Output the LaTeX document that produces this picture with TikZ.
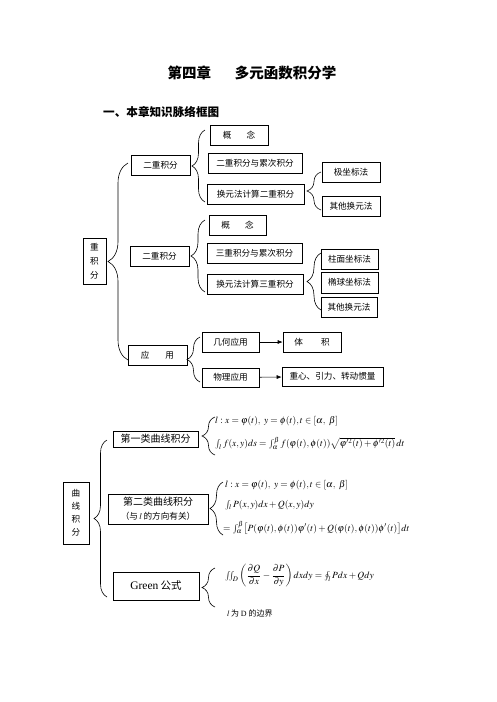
\documentclass[tikz,border=0pt]{standalone}
\usepackage{amsmath}
\usepackage{mathptmx}
\usepackage{fontspec}
\setmainfont{Liberation Serif}
\newfontfamily\cjk{Noto Sans CJK SC}
\newfontfamily\tms{Liberation Serif}
\usetikzlibrary{decorations.pathreplacing,arrows.meta}
\tikzset{
  box/.style={draw, line width=0.6pt, inner sep=0pt, align=center, font=\cjk\fontsize{8.6}{10}\selectfont},
  bbox/.style={draw, line width=0.6pt, inner sep=0pt, align=center, font=\cjk\fontsize{10}{12}\selectfont},
  brc/.style={decorate, decoration={brace, amplitude=#1}, line width=0.6pt},
  arr/.style={-{Latex[length=5pt,width=4pt]}, line width=0.6pt},
  fml/.style={anchor=west, inner sep=0pt, font=\fontsize{9.5}{11}\selectfont}
}
\begin{document}
\begin{tikzpicture}[x=1pt,y=-1pt]
\useasboundingbox (0,0) rectangle (496,702);
% titles
\node[font=\cjk\bfseries\fontsize{14.5}{16}\selectfont] (title) at (252,73) {第四章\hspace{24pt}多元函数积分学};
\node[anchor=west, inner sep=0pt, font=\cjk\bfseries\fontsize{11.6}{13}\selectfont] (sub) at (103,112) {一、本章知识脉络框图};
% top part
\node[box, minimum width=23, minimum height=46, font=\cjk\fontsize{8.6}{14}\selectfont] (r1) at (94.5,261) {重\\积\\分};
\node[box, minimum width=59, minimum height=20] (n1) at (160.5,165) {二重积分};
\node[box, minimum width=58, minimum height=20] (c1) at (239,135) {概\hspace{15pt}念};
\node[box, minimum width=94, minimum height=20] (c2) at (255,163) {二重积分与累次积分};
\node[box, minimum width=97, minimum height=20] (c3) at (255.5,194) {换元法计算二重积分};
\node[box, minimum width=58, minimum height=20] (c4) at (351,172) {极坐标法};
\node[box, minimum width=58, minimum height=20] (c5) at (351,206) {其他换元法};
\node[box, minimum width=59, minimum height=20] (n2) at (159.5,256) {二重积分};
\node[box, minimum width=57, minimum height=20] (d1) at (237.5,225) {概\hspace{15pt}念};
\node[box, minimum width=95, minimum height=20] (d2) at (254.5,253) {三重积分与累次积分};
\node[box, minimum width=96, minimum height=20] (d3) at (255,284) {换元法计算三重积分};
\node[box, minimum width=57, minimum height=20] (d4) at (349.5,259) {柱面坐标法};
\node[box, minimum width=57, minimum height=21] (d5) at (349.5,282.5) {椭球坐标法};
\node[box, minimum width=56, minimum height=20] (d6) at (349,307) {其他换元法};
\node[box, minimum width=59, minimum height=20] (n3) at (157.5,355) {应\hspace{16pt}用};
\node[box, minimum width=57, minimum height=20] (e1) at (230.5,342) {几何应用};
\node[box, minimum width=57, minimum height=19] (e2) at (230.5,377.5) {物理应用};
\node[box, minimum width=58, minimum height=20] (e3) at (312,342) {体\hspace{18pt}积};
\node[box, minimum width=101, minimum height=19] (e4) at (332.5,376.5) {重心、引力、转动惯量};
\draw[arr] (e1) -- (e3);
\draw[arr] (e2) -- (e4);
% braces top part
\draw[brc=20] (128,360) -- (128,163);
\draw[brc=13] (205,202) -- (205,130);
\draw[brc=14] (321,210) -- (321,172);
\draw[brc=14] (205,292) -- (205,220);
\draw[brc=14] (321,310) -- (321,253);
\draw[brc=13] (200,382) -- (200,337);
% bottom part
\node[box, minimum width=26, minimum height=62, font=\cjk\fontsize{8.6}{13}\selectfont] (r2) at (76,513) {曲\\线\\积\\分};
\node[bbox, minimum width=85, minimum height=16] (f1) at (155.5,439) {第一类曲线积分};
\node[bbox, minimum width=100, minimum height=30, font=\cjk\fontsize{10}{14}\selectfont] (f2) at (158,509) {第二类曲线积分\\{\fontsize{8.6}{14}\selectfont （与\,$l$\,的方向有关）}};
\node[bbox, minimum width=86, minimum height=28] (f3) at (156,586) {{\tms\fontsize{11.5}{12}\selectfont Green} {\fontsize{10.5}{12}\selectfont 公式}};
\draw[brc=13] (107,597) -- (107,440);
\draw[brc=13] (215,455) -- (215,417);
\draw[brc=13] (223,535) -- (223,482);
\draw[brc=13] (215,607) -- (215,568);
% formulas
\node[fml] (fa1) at (215,421) {$l: x=\varphi(t),\ y=\phi(t), t\in[\alpha,\ \beta]$};
\node[fml] (fb1) at (215,443) {$\int_l f(x,y)ds=\int_\alpha^\beta f(\varphi(t),\phi(t))\sqrt{\varphi'^2(t)+\phi'^2(t)}\,dt$};
\node[fml] (fa2) at (225,485) {$l: x=\varphi(t),\ y=\phi(t), t\in[\alpha,\ \beta]$};
\node[fml] (fc2) at (225,505) {$\int_l P(x,y)dx+Q(x,y)dy$};
\node[fml] (fd2) at (223,528) {$=\int_\alpha^\beta\bigl[P(\varphi(t),\phi(t))\varphi'(t)+Q(\varphi(t),\phi(t))\phi'(t)\bigr]dt$};
\node[fml] (fe3) at (225,576) {$\iint_D\left(\dfrac{\partial Q}{\partial x}-\dfrac{\partial P}{\partial y}\right)dxdy=\oint_l Pdx+Qdy$};
\node[anchor=west, inner sep=0pt, font=\cjk\fontsize{8}{10}\selectfont] (fl) at (227,613) {$l$\,为 \textrm{D} 的边界};
\end{tikzpicture}
\end{document}
